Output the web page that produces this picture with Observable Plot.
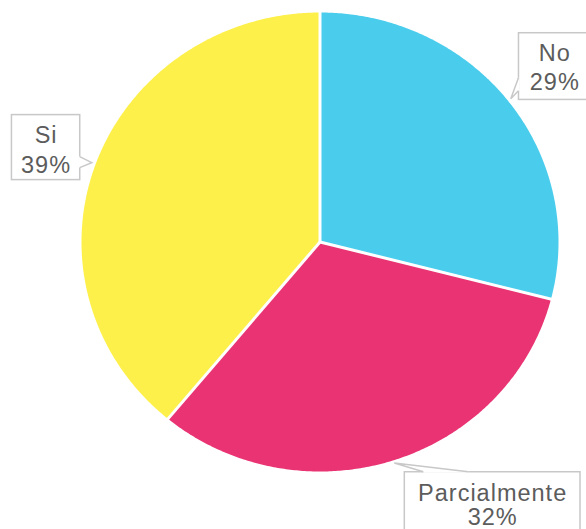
<!DOCTYPE html>
<html><head><meta charset="utf-8">
<script src="https://cdn.jsdelivr.net/npm/d3@7"></script>
<script src="https://cdn.jsdelivr.net/npm/@observablehq/plot@0.6"></script>
<style>html,body{margin:0;padding:0;background:#fff;overflow:hidden;}</style>
</head><body><div id="chart"></div>
<script>
// ---- data ----
const categories = ["No", "Parcialmente", "Si"];
const percents = [29, 32, 39];
const percentLabels = ["29%", "32%", "39%"];
const colors = ["#4acdec", "#e93372", "#fef04a"];

// ---- layout (pixels) ----
const W = 586, H = 529, CX = 319.5, CY = 241.5, RX = 238.5, RY = 229.5;
const TIP_R = 1.015;
// per-label callout box relative to its tip: [x1, x2, y1, y2], pointer base points, text line offsets from box top
const callout = {
  "No":           {box: [7.7, 79.3, -66, 0.7], ptr: [[7.7, -21], [7.7, -8]], lines: [20, 49]},
  "Si":           {box: [-80.3, -12, -48, 17], ptr: [[-12, -6], [-12, 5]],   lines: [20, 50]},
  "Parcialmente": {box: [10, 185.7, 8.7, 90],  ptr: [[29, 8.7], [74, 8.7]],  lines: [21, 45]}
};

// ---- geometry from data ----
const total = d3.sum(percents);
const slices = [];
let acc = 0;
categories.forEach((c, i) => {
  const a0 = acc / total * 2 * Math.PI;
  acc += percents[i];
  const a1 = acc / total * 2 * Math.PI;
  slices.push({cat: c, a0, a1, mid: (a0 + a1) / 2, pct: percentLabels[i], color: colors[i]});
});
const piePts = [];
for (const s of slices) {
  piePts.push({cat: s.cat, u: 0, v: 0});
  const n = Math.max(2, Math.ceil((s.a1 - s.a0) / (Math.PI / 360)));
  for (let k = 0; k <= n; k++) {
    const a = s.a0 + (s.a1 - s.a0) * k / n;
    piePts.push({cat: s.cat, u: Math.sin(a), v: Math.cos(a)});
  }
}
const seps = slices.map(s => ({u1: 0, v1: 0, u2: Math.sin(s.a0) * 1.02, v2: Math.cos(s.a0) * 1.02}));
const tips = slices.map(s => ({cat: s.cat, pct: s.pct, u: Math.sin(s.mid) * TIP_R, v: Math.cos(s.mid) * TIP_R}));

function callouts(index, scales) {
  const g = d3.create("svg:g");
  for (const t of tips) {
    const L = callout[t.cat];
    const tx = scales.x(t.u), ty = scales.y(t.v);
    const [x1, x2, y1, y2] = L.box;
    g.append("rect").attr("x", tx + x1).attr("y", ty + y1)
      .attr("width", x2 - x1).attr("height", y2 - y1)
      .attr("fill", "white").attr("stroke", "#c8c8c8").attr("stroke-width", 1.5);
    const p = L.ptr;
    g.append("polygon")
      .attr("points", `${tx + p[0][0]},${ty + p[0][1]} ${tx},${ty} ${tx + p[1][0]},${ty + p[1][1]}`)
      .attr("fill", "white").attr("stroke", "none");
    g.append("line").attr("x1", tx + p[0][0]).attr("y1", ty + p[0][1])
      .attr("x2", tx + p[1][0]).attr("y2", ty + p[1][1])
      .attr("stroke", "white").attr("stroke-width", 2);
    g.append("polyline")
      .attr("points", `${tx + p[0][0]},${ty + p[0][1]} ${tx},${ty} ${tx + p[1][0]},${ty + p[1][1]}`)
      .attr("fill", "none").attr("stroke", "#c8c8c8").attr("stroke-width", 1.5);
    const cx = tx + (x1 + x2) / 2 + 0.5;
    [t.cat, t.pct].forEach((txt, i) => {
      g.append("text").attr("x", cx).attr("y", ty + y1 + L.lines[i])
        .attr("text-anchor", "middle").attr("dominant-baseline", "central")
        .attr("fill", "#5c5c5c").attr("font-size", 23.5).attr("letter-spacing", 1)
        .attr("font-family", "Liberation Sans, Arial, sans-serif")
        .text(txt);
    });
  }
  return g.node();
}

const chart = Plot.plot({
  width: W, height: H,
  margin: 0,
  x: {domain: [-CX / RX, (W - CX) / RX], axis: null},
  y: {domain: [(CY - H) / RY, CY / RY], axis: null},
  style: {background: "white", fontFamily: "Liberation Sans, Arial, sans-serif"},
  marks: [
    Plot.line(piePts, {x: "u", y: "v", z: "cat", fill: d => colors[categories.indexOf(d.cat)], stroke: "none", curve: "linear-closed"}),
    Plot.link(seps, {x1: "u1", y1: "v1", x2: "u2", y2: "v2", stroke: "white", strokeWidth: 3}),
    callouts
  ]
});
document.getElementById("chart").append(chart);
</script>
</body></html>
